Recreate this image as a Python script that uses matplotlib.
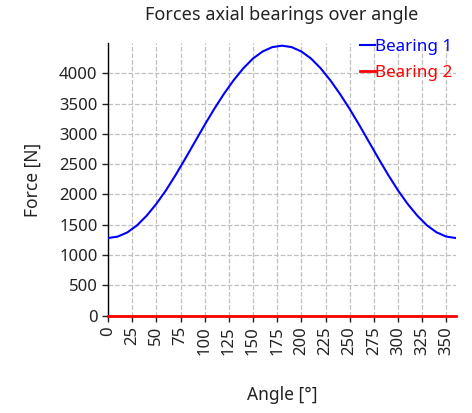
import matplotlib
matplotlib.use("Agg")
import matplotlib.pyplot as plt

plt.rcParams['font.family'] = ['Noto Sans', 'DejaVu Sans']

# values (every 10 degrees)
angle = list(range(0, 361, 10))
force_bearing1 = [1279, 1303, 1372, 1488, 1648, 1843, 2068, 2322, 2592, 2870,
                  3148, 3414, 3662, 3886, 4082, 4244, 4360, 4432, 4456, 4432,
                  4360, 4244, 4082, 3884, 3658, 3410, 3144, 2866, 2588, 2318,
                  2066, 1842, 1648, 1488, 1372, 1303, 1279]
force_bearing2 = [0] * len(angle)
x_ticks = list(range(0, 351, 25))
y_ticks = list(range(0, 4001, 500))

text_color = '#222222'

fig = plt.figure(figsize=(4.72, 4.13), dpi=100)
ax = fig.add_axes([108 / 472, 1 - 315.5 / 413, 348 / 472, 272.5 / 413])

ax.plot(angle, force_bearing1, color='#0000ff', lw=1.5, label='Bearing 1', zorder=3)
ax.plot(angle, force_bearing2, color='#ff0000', lw=2, label='Bearing 2', zorder=4,
        clip_on=False)

ax.set_xlim(0, 360)
ax.set_ylim(0, 4500)
ax.set_xticks(x_ticks)
ax.set_yticks(y_ticks)
ax.tick_params(axis='x', labelrotation=90)
ax.tick_params(labelsize=12, colors=text_color, length=4, width=1)
for lbl in ax.get_xticklabels() + ax.get_yticklabels():
    lbl.set_color(text_color)

ax.grid(True, linestyle='--', color='#c0c0c0', linewidth=0.9)
ax.set_axisbelow(True)
for side in ('top', 'right'):
    ax.spines[side].set_visible(False)
for side in ('left', 'bottom'):
    ax.spines[side].set_color('black')
    ax.spines[side].set_linewidth(1)

fig.text(282 / 472, 1 - 15 / 413, 'Forces axial bearings over angle',
         ha='center', va='center', fontsize=13, color=text_color)
fig.text(282.5 / 472, 1 - 395 / 413, 'Angle [°]', ha='center', va='center',
         fontsize=12.5, color=text_color)
fig.text(33 / 472, 1 - 180 / 413, 'Force [N]', ha='center', va='center',
         rotation=90, fontsize=12.5, color=text_color)

leg = ax.legend(loc='upper right', bbox_to_anchor=(459 / 472, 1 - 32 / 413),
                bbox_transform=fig.transFigure, frameon=False, fontsize=12.3,
                handlelength=0.9, handletextpad=0.0, borderaxespad=0,
                labelspacing=0.6)
for txt, line in zip(leg.get_texts(), leg.get_lines()):
    txt.set_color(line.get_color())

fig.savefig('out.png', dpi=100)
